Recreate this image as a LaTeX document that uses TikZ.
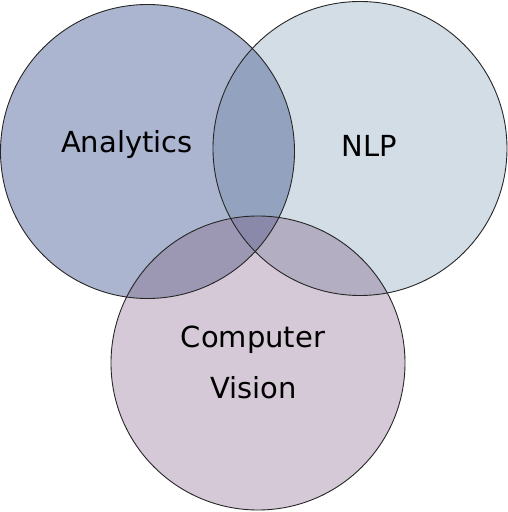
\documentclass[tikz,border=0pt]{standalone}
\usepackage{fontspec}
\setmainfont{DejaVu Sans}
\definecolor{cA}{HTML}{ACB5CF}
\definecolor{cN}{HTML}{D2DDE6}
\definecolor{cC}{HTML}{D5C9D7}
\definecolor{cAN}{HTML}{93A3BF}
\definecolor{cAC}{HTML}{9C98B4}
\definecolor{cNC}{HTML}{B3AEC2}
\definecolor{cANC}{HTML}{8B89A9}
\begin{document}
\begin{tikzpicture}[x=1pt,y=1pt,
  outline/.style={draw=black!85,line width=0.9pt},
  lbl/.style={font=\fontsize{29}{35}\selectfont,anchor=base,inner sep=0pt}]
\useasboundingbox (0,0) rectangle (508,512);
\def\circA{(147.5,360.5) circle (147)}
\def\circN{(360,363.5) circle (147)}
\def\circC{(258,149) circle (147)}
\fill[cA] \circA;
\fill[cN] \circN;
\fill[cC] \circC;
\begin{scope}\clip \circA; \fill[cAN] \circN; \end{scope}
\begin{scope}\clip \circA; \fill[cAC] \circC; \end{scope}
\begin{scope}\clip \circN; \fill[cNC] \circC; \end{scope}
\begin{scope}\clip \circA; \clip \circN; \fill[cANC] \circC; \end{scope}
\draw[outline] \circA;
\draw[outline] \circN;
\draw[outline] \circC;
\node[lbl] (analytics) at (127,359.3) {Analytics};
\node[lbl] (nlp) at (369,355) {NLP};
\node[lbl] (computer) at (253,164) {Computer};
\node[lbl] (vision) at (253.5,113.3) {Vision};
\end{tikzpicture}
\end{document}
